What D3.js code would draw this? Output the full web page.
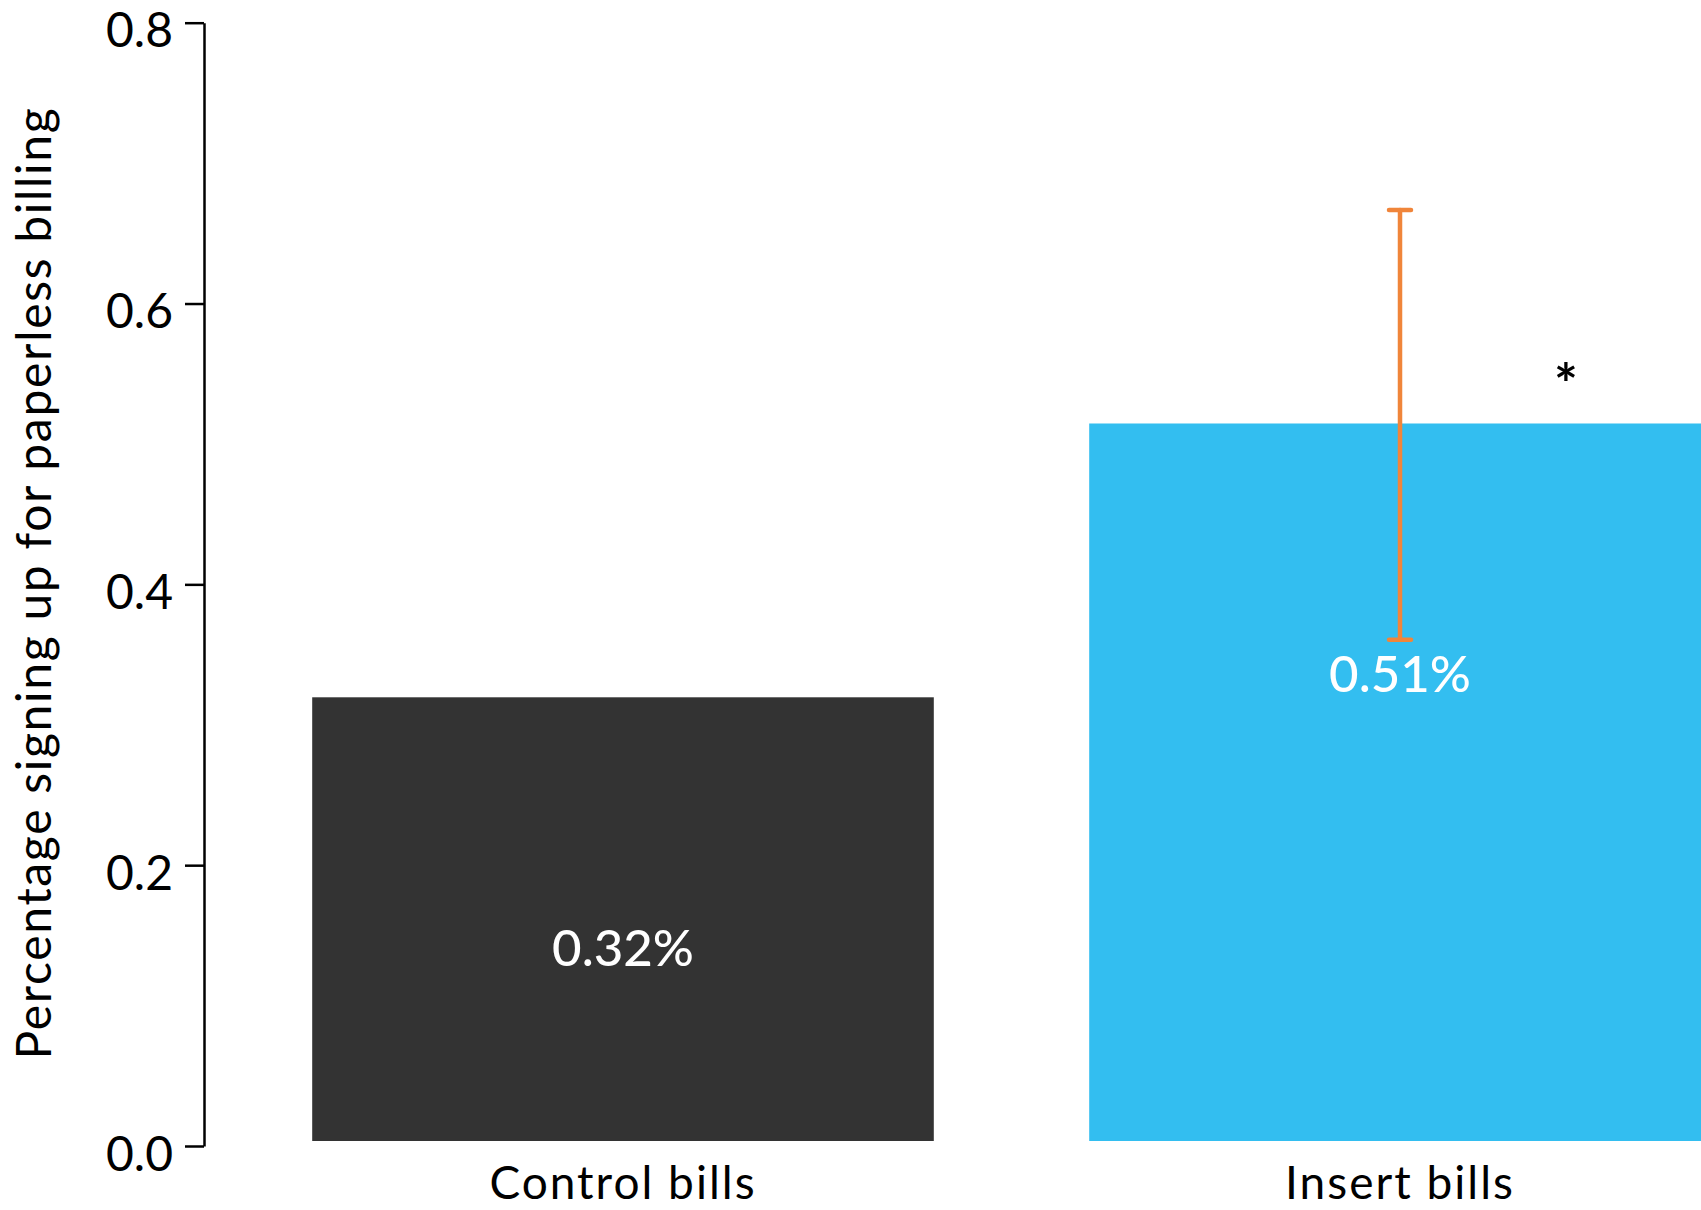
<!DOCTYPE html>
<html><head><meta charset="utf-8">
<script src="https://cdn.jsdelivr.net/npm/d3@7"></script>
<style>
html,body{margin:0;padding:0;background:#fff;}
svg{display:block;font-family:Lato,"Open Sans",sans-serif;}
</style></head>
<body>
<svg id="chart" width="1701" height="1210"></svg>
<script>
const categories = ["Control bills", "Insert bills"];
const values = [0.316, 0.511];
const valueLabels = ["0.32%", "0.51%"];
const errLow = [null, 0.357];
const errHigh = [null, 0.663];
const barColors = ["#333333", "#33BEF0"];
const yTicks = [0, 0.2, 0.4, 0.6, 0.8];
const yTickLabels = ["0.0", "0.2", "0.4", "0.6", "0.8"];
const yTitle = "Percentage signing up for paperless billing";
const sigMark = "*";

const svg = d3.select("#chart");
const x = d3.scaleBand().domain(categories).range([312.2, 1710.8]).paddingInner(0.2).paddingOuter(0);
const y = d3.scaleLinear().domain([0, 0.8]).range([1141, 17.7]);

// bars
svg.selectAll("rect.bar").data(categories).enter().append("rect")
  .attr("class","bar")
  .attr("x", d => x(d))
  .attr("width", x.bandwidth())
  .attr("y", (d,i) => y(values[i]))
  .attr("height", (d,i) => y(0) - y(values[i]))
  .attr("fill", (d,i) => barColors[i]);

// value labels
svg.selectAll("text.vl").data(categories).enter().append("text")
  .attr("class","vl")
  .attr("x", d => x(d) + x.bandwidth()/2)
  .attr("y", (d,i) => y(values[i]) + 249)
  .attr("text-anchor","middle")
  .attr("dominant-baseline","central")
  .attr("fill","#fff")
  .attr("font-size", 51)
  .attr("font-weight", 500)
  .text((d,i) => valueLabels[i]);

// error bars
const eb = svg.append("g").attr("stroke","#F0853A").attr("stroke-width",4.5).attr("stroke-linecap","round");
categories.forEach((c,i) => {
  if (errLow[i] == null) return;
  const cx = x(c) + x.bandwidth()/2;
  eb.append("line").attr("x1",cx).attr("x2",cx).attr("y1",y(errLow[i])).attr("y2",y(errHigh[i]));
  eb.append("line").attr("x1",cx-11).attr("x2",cx+11).attr("y1",y(errLow[i])).attr("y2",y(errLow[i]));
  eb.append("line").attr("x1",cx-11).attr("x2",cx+11).attr("y1",y(errHigh[i])).attr("y2",y(errHigh[i]));
});

// significance mark
svg.append("text")
  .attr("x", x(categories[1]) + x.bandwidth()/2 + 166)
  .attr("y", y(0.546) + 30)
  .attr("text-anchor","middle")
  .attr("font-size", 56)
  .attr("font-weight", 700)
  .attr("fill","#000")
  .text(sigMark);

// y axis
const axis = d3.axisLeft(y).tickValues(yTicks).tickFormat((d,i) => yTickLabels[i]).tickSize(19).tickSizeOuter(0).tickPadding(12);
const gy = svg.append("g").attr("transform","translate(204,5)").call(axis);
gy.select(".domain").attr("stroke","#000").attr("stroke-width",2.5);
gy.selectAll(".tick line").attr("stroke","#000").attr("stroke-width",2.5);
gy.selectAll(".tick text").attr("font-size",48).attr("fill","#000").attr("dy","0.5em").attr("font-family","Lato");

// x labels
svg.selectAll("text.xl").data(categories).enter().append("text")
  .attr("class","xl")
  .attr("x", d => x(d) + x.bandwidth()/2)
  .attr("y", 1199)
  .attr("text-anchor","middle")
  .attr("font-size", 46)
  .attr("letter-spacing", 2)
  .attr("fill","#000")
  .text(d => d);

// y title
svg.append("text")
  .attr("transform","translate(51,583) rotate(-90)")
  .attr("text-anchor","middle")
  .attr("font-size", 48)
  .attr("letter-spacing", 1.7)
  .attr("fill","#000")
  .text(yTitle);
</script>
</body></html>
